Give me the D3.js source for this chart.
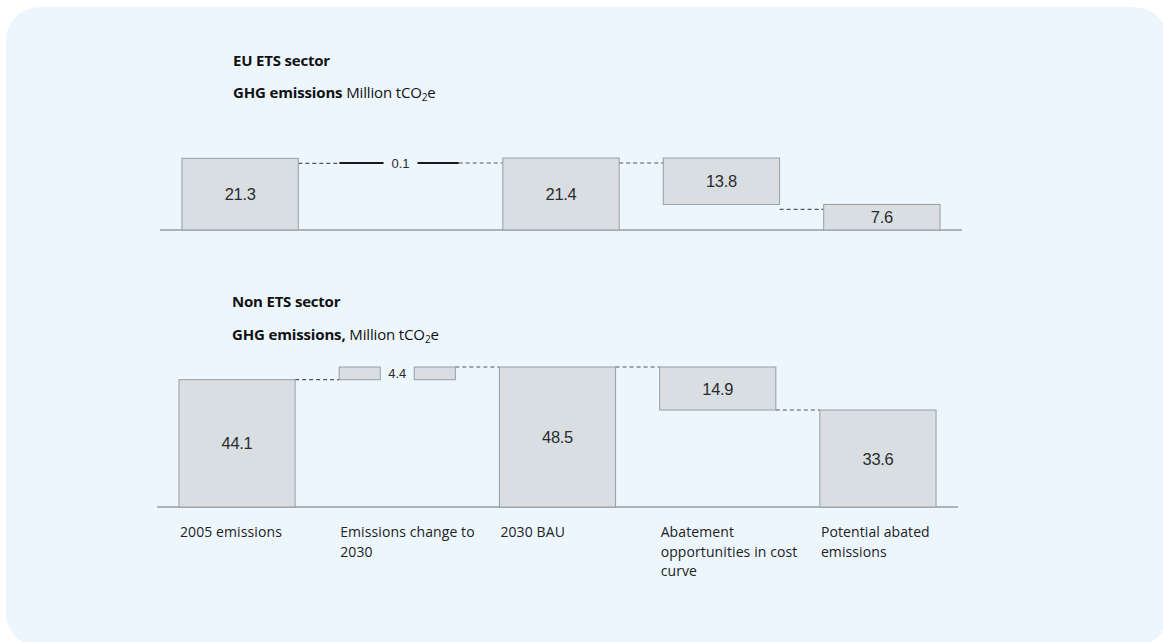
<!DOCTYPE html>
<html>
<head>
<meta charset="utf-8">
<script src="https://cdn.jsdelivr.net/npm/d3@7"></script>
<style>
  html, body { margin: 0; padding: 0; background: #ffffff; }
  svg { display: block; }
</style>
</head>
<body>
<svg id="chart" width="1163" height="642"></svg>
<script>
// Waterfall steps shared by both panels
const categories = ["2005 emissions", "Emissions change to 2030", "2030 BAU",
                    "Abatement opportunities in cost curve", "Potential abated emissions"];
const categoryLines = [["2005 emissions"], ["Emissions change to", "2030"], ["2030 BAU"],
                       ["Abatement", "opportunities in cost", "curve"], ["Potential abated", "emissions"]];
const stepTypes = ["total", "increase", "total", "decrease", "total"];

// GHG emissions, Million tCO2e
const etsValues = [21.3, 0.1, 21.4, 13.8, 7.6];
const nonEtsValues = [44.1, 4.4, 48.5, 14.9, 33.6];

const svg = d3.select("#chart");

// rounded light-blue panel
svg.append("rect")
  .attr("x", 6).attr("y", 7).attr("width", 1162).attr("height", 640)
  .attr("rx", 34).attr("ry", 34)
  .attr("fill", "#edf6fd");

const barFill = "#d9dee2", barStroke = "#979ea3", textCol = "#2b2b2b";
const fontTitle = "'Open Sans', 'Noto Sans', sans-serif";
const fontValue = "'Liberation Sans', Arial, sans-serif";

// turn values into [start, end] pairs for a waterfall
function steps(values) {
  let level = 0;
  return values.map((v, i) => {
    let s, e;
    if (stepTypes[i] === "total") { s = 0; e = v; }
    else if (stepTypes[i] === "increase") { s = level; e = level + v; }
    else { s = level - v; e = level; }
    level = stepTypes[i] === "decrease" ? s : e;
    return { cat: categories[i], value: v, type: stepTypes[i], lo: Math.min(s, e), hi: Math.max(s, e) };
  });
}

function panel(opts) {
  const g = svg.append("g");
  const data = steps(opts.values);
  const x = d3.scaleBand().domain(categories).range(opts.xRange).paddingInner(0.275).paddingOuter(0.137);
  const y = d3.scaleLinear().domain([0, opts.yMax]).range([opts.base, opts.top]);
  const drop = opts.drop;

  // titles
  g.append("text").attr("x", opts.titleX).attr("y", opts.titleY)
    .attr("font-family", fontTitle).attr("font-size", 15).attr("font-weight", 700)
    .attr("fill", "#111").attr("letter-spacing", -0.2).text(opts.title);
  const sub = g.append("text").attr("x", opts.titleX).attr("y", opts.titleY + opts.subGap)
    .attr("font-family", fontTitle).attr("font-size", 15).attr("fill", "#111").attr("letter-spacing", -0.15);
  sub.append("tspan").attr("font-weight", 700).text(opts.subBold);
  sub.append("tspan").text(" Million tCO");
  sub.append("tspan").attr("font-size", 10).attr("dy", 3).text("2");
  sub.append("tspan").attr("dy", -3).text("e");

  // connectors between neighbouring steps
  data.forEach((d, i) => {
    if (i === data.length - 1) return;
    const lvl = d.type === "decrease" ? d.lo : d.hi;
    g.append("line")
      .attr("x1", x(d.cat) + x.bandwidth()).attr("x2", x(categories[i + 1]))
      .attr("y1", y(lvl) + drop).attr("y2", y(lvl) + drop)
      .attr("stroke", "#555").attr("stroke-width", 1.2).attr("stroke-dasharray", "4,3");
  });

  // baseline
  g.append("line").attr("x1", opts.xRange[0]).attr("x2", opts.xRange[1])
    .attr("y1", y(0)).attr("y2", y(0)).attr("stroke", "#6d7377").attr("stroke-width", 1.2);

  data.forEach(d => {
    const bx = x(d.cat), bw = x.bandwidth();
    const cx = bx + bw / 2;
    const h = y(d.lo) - y(d.hi);
    if (d.type === "increase") {
      const gap = opts.gap;
      const pieces = [[bx - 3, cx - gap / 2], [cx + gap / 2, bx + bw]];
      if (h < 2) {
        // very small change: drawn as a heavy rule split by its label
        pieces.forEach(([a, b]) => {
          g.append("line").attr("x1", a).attr("x2", b)
            .attr("y1", y(d.hi) + drop).attr("y2", y(d.hi) + drop)
            .attr("stroke", "#1a1a1a").attr("stroke-width", 2);
        });
        g.append("text").attr("x", cx).attr("y", y(d.hi) + drop + 5)
          .attr("text-anchor", "middle").attr("font-family", fontValue).attr("font-size", 13)
          .attr("fill", textCol).text(d.value);
      } else {
        pieces.forEach(([a, b]) => {
          g.append("rect").attr("x", Math.max(a, bx)).attr("y", y(d.hi)).attr("width", b - Math.max(a, bx)).attr("height", h)
            .attr("fill", barFill).attr("stroke", barStroke).attr("stroke-width", 1);
        });
        g.append("text").attr("x", cx).attr("y", (y(d.hi) + y(d.lo)) / 2 + 4.5)
          .attr("text-anchor", "middle").attr("font-family", fontValue).attr("font-size", 13)
          .attr("fill", textCol).text(d.value);
      }
      return;
    }
    g.append("rect").attr("x", bx).attr("y", y(d.hi)).attr("width", bw).attr("height", h)
      .attr("fill", barFill).attr("stroke", barStroke).attr("stroke-width", 1);
    g.append("text").attr("x", cx).attr("y", (y(d.hi) + y(d.lo)) / 2 + 6)
      .attr("text-anchor", "middle").attr("font-family", fontValue).attr("font-size", 16.5)
      .attr("letter-spacing", -0.3).attr("fill", textCol).text(d.value.toFixed(1));
  });
  return { x, y };
}

panel({
  values: etsValues, xRange: [160, 962], base: 230, top: 158, yMax: 21.4, drop: 5,
  title: "EU ETS sector", subBold: "GHG emissions", titleX: 233, titleY: 66, subGap: 32, gap: 34
});

const bottom = panel({
  values: nonEtsValues, xRange: [157, 958], base: 507, top: 367, yMax: 48.5, drop: 0,
  title: "Non ETS sector", subBold: "GHG emissions,", titleX: 232, titleY: 307, subGap: 33, gap: 34
});

// category labels under the lower panel, one text per line
const lab = svg.append("g");
categories.forEach((c, i) => {
  categoryLines[i].forEach((line, k) => {
    lab.append("text")
      .attr("x", bottom.x(c) + 1).attr("y", 537 + k * 19.5)
      .attr("font-family", fontTitle).attr("font-size", 14).attr("fill", "#222")
      .attr("letter-spacing", 0.1).text(line);
  });
});
</script>
</body>
</html>
